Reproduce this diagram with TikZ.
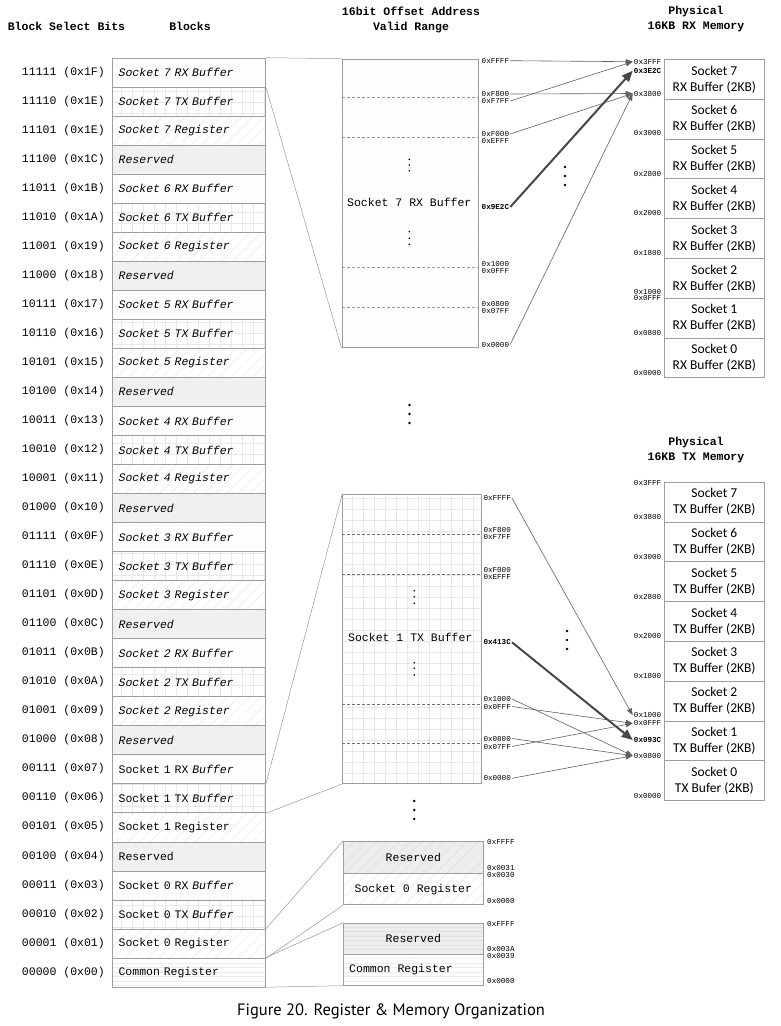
\documentclass[tikz,border=0pt]{standalone}
\usepackage{fontspec}
\setmainfont{Carlito}
\newfontfamily\MonoF{Liberation Mono}
\newfontfamily\CapF{PT Sans}
\usetikzlibrary{patterns.meta,arrows.meta}
\newcommand\RowFont{\fontsize{11.5}{13}\selectfont\MonoF}
\newcommand\HexFont{\fontsize{7.6}{8}\selectfont\MonoF}
\newcommand\PhysFont{\fontsize{13.5}{16}\selectfont}
\tikzset{
  bx/.style={draw=black!38, line width=0.7pt},
  rowbox/.style={bx, anchor=north west, minimum width=153pt, minimum height=29.03pt, text width=141pt, inner xsep=6pt, inner ysep=0pt, align=left, font=\RowFont},
  rowrx/.style={preaction={fill=white}, pattern={Dots[distance=3pt,radius=0.4pt]}, pattern color=black!16},
  rowtx/.style={preaction={fill=white}, pattern={Hatch[distance=11pt,line width=0.6pt]}, pattern color=black!9},
  rowreg/.style={preaction={fill=white}, pattern={Lines[angle=45,distance=8pt,line width=0.5pt]}, pattern color=black!9},
  rowres/.style={fill=black!6},
  rowcom/.style={preaction={fill=white}, pattern={Lines[angle=0,distance=4.5pt,line width=0.5pt]}, pattern color=black!8},
  resreg/.style={preaction={fill=black!7}, pattern={Lines[angle=45,distance=8pt,line width=0.5pt]}, pattern color=black!12},
  rescom/.style={preaction={fill=black!7}, pattern={Lines[angle=0,distance=4.5pt,line width=0.5pt]}, pattern color=black!12},
  lbl/.style={anchor=east, inner sep=0pt, font=\RowFont},
  hdr/.style={font=\fontsize{11.5}{15}\selectfont\MonoF\bfseries, align=center, inner sep=0pt},
  phys/.style={bx, anchor=north west, minimum width=100pt, minimum height=39.8pt, align=center, inner sep=0pt, font=\PhysFont},
  hxr/.style={anchor=west, inner sep=1pt, font=\HexFont},
  hxl/.style={anchor=east, inner sep=1pt, font=\HexFont},
  hxb/.style={font=\HexFont\bfseries},
  conn/.style={draw=black!40, line width=0.5pt},
  arr/.style={draw=black!62, line width=0.6pt, -{Triangle[length=7pt,width=5pt]}},
  bigarr/.style={draw=black!72, line width=2pt, -{Triangle[length=11pt,width=9pt]}},
  zdash/.style={draw=black!40, line width=0.5pt, dash pattern=on 3pt off 2pt},
  zdashd/.style={draw=black!55, line width=0.5pt, dash pattern=on 3pt off 2pt},
  zbox/.style={bx, anchor=north west, inner sep=0pt}
}
\begin{document}
\begin{tikzpicture}[x=1pt,y=-1pt]
\useasboundingbox[fill=white] (0,0) rectangle (781,1026);

% headings
\node[hdr] (h1) at (66.5,26) {Block Select Bits};
\node[hdr] (h2) at (190,26) {Blocks};
\node[hdr] (h3) at (411,19.5) {16bit Offset Address\\Valid Range};
\node[hdr] (h4) at (696,19.5) {Physical\\16KB RX Memory};
\node[hdr] (h5) at (696,450.5) {Physical\\16KB TX Memory};

% block rows
\foreach \i/\lab/\typ/\txt in {
 0/11111 (0x1F)/rowrx/\itshape Socket 7 RX Buffer,
 1/11110 (0x1E)/rowtx/\itshape Socket 7 TX Buffer,
 2/11101 (0x1E)/rowreg/\itshape Socket 7 Register,
 3/11100 (0x1C)/rowres/\itshape Reserved,
 4/11011 (0x1B)/rowrx/\itshape Socket 6 RX Buffer,
 5/11010 (0x1A)/rowtx/\itshape Socket 6 TX Buffer,
 6/11001 (0x19)/rowreg/\itshape Socket 6 Register,
 7/11000 (0x18)/rowres/\itshape Reserved,
 8/10111 (0x17)/rowrx/\itshape Socket 5 RX Buffer,
 9/10110 (0x16)/rowtx/\itshape Socket 5 TX Buffer,
 10/10101 (0x15)/rowreg/\itshape Socket 5 Register,
 11/10100 (0x14)/rowres/\itshape Reserved,
 12/10011 (0x13)/rowrx/\itshape Socket 4 RX Buffer,
 13/10010 (0x12)/rowtx/\itshape Socket 4 TX Buffer,
 14/10001 (0x11)/rowreg/\itshape Socket 4 Register,
 15/01000 (0x10)/rowres/\itshape Reserved,
 16/01111 (0x0F)/rowrx/\itshape Socket 3 RX Buffer,
 17/01110 (0x0E)/rowtx/\itshape Socket 3 TX Buffer,
 18/01101 (0x0D)/rowreg/\itshape Socket 3 Register,
 19/01100 (0x0C)/rowres/\itshape Reserved,
 20/01011 (0x0B)/rowrx/\itshape Socket 2 RX Buffer,
 21/01010 (0x0A)/rowtx/\itshape Socket 2 TX Buffer,
 22/01001 (0x09)/rowreg/\itshape Socket 2 Register,
 23/01000 (0x08)/rowres/\itshape Reserved,
 24/00111 (0x07)/rowrx/Socket 1 RX \textit{Buffer},
 25/00110 (0x06)/rowtx/Socket 1 TX \textit{Buffer},
 26/00101 (0x05)/rowreg/Socket 1 Register,
 27/00100 (0x04)/rowres/Reserved,
 28/00011 (0x03)/rowrx/Socket 0 RX \textit{Buffer},
 29/00010 (0x02)/rowtx/Socket 0 TX \textit{Buffer},
 30/00001 (0x01)/rowreg/Socket 0 Register,
 31/00000 (0x00)/rowcom/Common Register}
{
  \node[rowbox,\typ] (b\i) at (112.3,{57.7+29.03*\i}) {\txt};
  \node[lbl] (l\i) at (105,{57.7+29.03*(\i+0.5)}) {\lab};
}

% zoomed boxes
\node[zbox,rowrx,minimum width=136pt,minimum height=288.5pt] (rxz) at (341.5,58.7) {};
\node[zbox,rowtx,minimum width=138.5pt,minimum height=289pt] (txz) at (342.2,494.3) {};
\node[zbox,resreg,minimum width=139.4pt,minimum height=32.6pt,font=\RowFont] (s0res) at (343.3,840.7) {Reserved};
\node[zbox,rowreg,minimum width=139.4pt,minimum height=31pt,font=\RowFont] (s0reg) at (343.3,873.3) {Socket 0 Register};
\node[zbox,rescom,minimum width=139.4pt,minimum height=31.6pt,font=\RowFont] (cres) at (343.3,922.7) {Reserved};
\node[zbox,rowcom,minimum width=139.4pt,minimum height=30.7pt] (creg) at (343.3,954.3) {};
\node[anchor=west,inner sep=0pt,font=\RowFont] (cregt) at (349,969.3) {Common Register};

\draw[zdash] (341.5,97.7) -- (477.5,97.7);
\draw[zdash] (341.5,137.7) -- (477.5,137.7);
\draw[zdash] (341.5,267.7) -- (477.5,267.7);
\draw[zdash] (341.5,307.3) -- (477.5,307.3);
\draw[zdashd] (342.2,534.3) -- (480.7,534.3);
\draw[zdashd] (342.2,574.3) -- (480.7,574.3);
\draw[zdashd] (342.2,704.3) -- (480.7,704.3);
\draw[zdashd] (342.2,743.3) -- (480.7,743.3);

\node[font=\RowFont] (rxzt) at (409.3,202.3) {Socket 7 RX Buffer};
\node[font=\RowFont] (txzt) at (410.3,637.7) {Socket 1 TX Buffer};

% small vertical dots inside boxes
\foreach \yy in {159.3,165,170.7,231.7,238.3,244.3} {\fill (409.3,\yy) circle (0.9pt);}
\foreach \yy in {590.7,596.7,603.3,662.7,668.3,675} {\fill (414.3,\yy) circle (0.9pt);}
% bigger dots
\foreach \yy in {167,176,185} {\fill (565,\yy) circle (1.4pt);}
\foreach \yy in {631,640,649} {\fill (567,\yy) circle (1.4pt);}
\foreach \yy in {405,414,423} {\fill (409.5,\yy) circle (1.4pt);}
\foreach \yy in {801,810,819} {\fill (414.3,\yy) circle (1.4pt);}

% connector lines from blocks
\draw[conn] (b0.north east) -- (rxz.north west);
\draw[conn] (b0.south east) -- (rxz.south west);
\draw[conn] (b25.north east) -- (txz.north west);
\draw[conn] (b25.south east) -- (txz.south west);
\draw[conn] (b30.north east) -- (s0res.north west);
\draw[conn] (b30.south east) -- (s0reg.south west);
\draw[conn] (b31.north east) -- (cres.north west);
\draw[conn] (b31.south east) -- (creg.south west);

% physical memories
\foreach \k in {0,...,7} {
  \pgfmathtruncatemacro\n{7-\k}
  \node[phys] (prx\k) at (664,{59+39.8*\k}) {Socket \n\\RX Buffer (2KB)};
}
\foreach \k in {0,...,6} {
  \pgfmathtruncatemacro\n{7-\k}
  \node[phys] (ptx\k) at (664,{481.7+39.8*\k}) {Socket \n\\TX Buffer (2KB)};
}
\node[phys] (ptx7) at (664,{481.7+39.8*7}) {Socket 0\\TX Bufer (2KB)};

% RX middle labels
\node[hxr] (mFFFF) at (480.5,60.7) {0xFFFF};
\node[hxr] (mF800) at (480.5,94) {0xF800};
\node[hxr] (mF7FF) at (480.5,101) {0xF7FF};
\node[hxr] (mF000) at (480.5,134) {0xF000};
\node[hxr] (mEFFF) at (480.5,141) {0xEFFF};
\node[hxr,hxb] (m9E2C) at (480.5,207) {0x9E2C};
\node[hxr] (m1000) at (480.5,263.5) {0x1000};
\node[hxr] (m0FFF) at (480.5,270.5) {0x0FFF};
\node[hxr] (m0800) at (480.5,303.5) {0x0800};
\node[hxr] (m07FF) at (480.5,310.5) {0x07FF};
\node[hxr] (m0000) at (480.5,344.5) {0x0000};

% RX physical labels
\node[hxl] (pR3FFF) at (662.5,61.7) {0x3FFF};
\node[hxl,hxb] (pR3E2C) at (662.5,70.7) {0x3E2C};
\node[hxl] (pR3800) at (662.5,93.5) {0x3800};
\node[hxl] (pR3000) at (662.5,132.5) {0x3000};
\node[hxl] (pR2800) at (662.5,174) {0x2800};
\node[hxl] (pR2000) at (662.5,213.3) {0x2000};
\node[hxl] (pR1800) at (662.5,252.5) {0x1800};
\node[hxl] (pR1000) at (662.5,291.7) {0x1000};
\node[hxl] (pR0FFF) at (662.5,298) {0x0FFF};
\node[hxl] (pR0800) at (662.5,333.3) {0x0800};
\node[hxl] (pR0000) at (662.5,373.3) {0x0000};

% TX middle labels
\node[hxr] (tFFFF) at (482.3,498.3) {0xFFFF};
\node[hxr] (tF800) at (482.3,530) {0xF800};
\node[hxr] (tF7FF) at (482.3,537.3) {0xF7FF};
\node[hxr] (tF000) at (482.3,569.5) {0xF000};
\node[hxr] (tEFFF) at (482.3,577) {0xEFFF};
\node[hxr,hxb] (t413C) at (482.3,642.3) {0x413C};
\node[hxr] (t1000) at (482.3,699) {0x1000};
\node[hxr] (t0FFF) at (482.3,706.5) {0x0FFF};
\node[hxr] (t0800) at (482.3,738.5) {0x0800};
\node[hxr] (t07FF) at (482.3,746.5) {0x07FF};
\node[hxr] (t0000) at (482.3,778.3) {0x0000};

% TX physical labels
\node[hxl] (pT3FFF) at (662.5,482.5) {0x3FFF};
\node[hxl] (pT3800) at (662.5,517.3) {0x3800};
\node[hxl] (pT3000) at (662.5,557.3) {0x3000};
\node[hxl] (pT2800) at (662.5,596.7) {0x2800};
\node[hxl] (pT2000) at (662.5,636) {0x2000};
\node[hxl] (pT1800) at (662.5,676) {0x1800};
\node[hxl] (pT1000) at (662.5,715.3) {0x1000};
\node[hxl] (pT0FFF) at (662.5,723.3) {0x0FFF};
\node[hxl,hxb] (pT093C) at (662.5,740) {0x093C};
\node[hxl] (pT0800) at (662.5,755.7) {0x0800};
\node[hxl] (pT0000) at (662.5,796) {0x0000};

% socket 0 / common register labels
\node[hxr] (sFFFF) at (486,842) {0xFFFF};
\node[hxr] (s0031) at (486,868) {0x0031};
\node[hxr] (s0030) at (486,875) {0x0030};
\node[hxr] (s0000) at (486,900.5) {0x0000};
\node[hxr] (cFFFF) at (486,924) {0xFFFF};
\node[hxr] (c003A) at (486,949) {0x003A};
\node[hxr] (c0039) at (486,956) {0x0039};
\node[hxr] (c0000) at (486,981) {0x0000};

% RX arrows
\draw[arr] (mFFFF.east) -- (pR3FFF.west);
\draw[arr] (mF800.east) -- (pR3800.west);
\draw[arr] (mF7FF.east) -- (pR3FFF.west);
\draw[arr] (mF000.east) -- (pR3800.west);
\draw[arr] (m0000.east) -- (pR3800.west);
\draw[bigarr] (m9E2C.east) -- (pR3E2C.west);

% TX arrows
\draw[arr] (tFFFF.east) -- (pT1000.west);
\draw[arr] (t1000.east) -- (pT0800.west);
\draw[arr] (t0FFF.east) -- (pT0FFF.west);
\draw[arr] (t0800.east) -- (pT0800.west);
\draw[arr] (t07FF.east) -- (pT0FFF.west);
\draw[arr] (t0000.east) -- (pT0800.west);
\draw[bigarr] (t413C.east) -- (pT093C.west);

% caption
\node[font=\fontsize{16.5}{19}\selectfont\CapF] (cap) at (391,1011) {Figure 20. Register \& Memory Organization};
\end{tikzpicture}
\end{document}
